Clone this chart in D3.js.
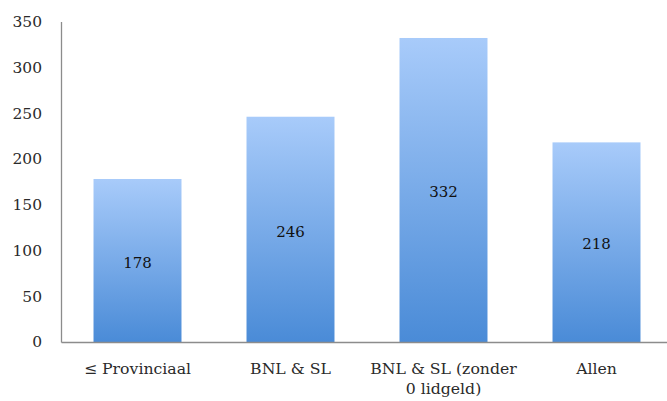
<!DOCTYPE html>
<html>
<head>
<meta charset="utf-8">
<script src="https://cdn.jsdelivr.net/npm/d3@7"></script>
<style>
body { margin: 0; background: #fff; }
text { font-family: "DejaVu Serif", "Liberation Serif", serif; }
</style>
</head>
<body>
<svg id="chart" width="667" height="401"></svg>
<script>
var categories = ["≤ Provinciaal", "BNL & SL", "BNL & SL (zonder|0 lidgeld)", "Allen"];
var values = [178, 246, 332, 218];
var yTicks = [0, 50, 100, 150, 200, 250, 300, 350];

var svg = d3.select("#chart");
var plotLeft = 61, plotRight = 673, plotTop = 21.5, plotBottom = 342;

var defs = svg.append("defs");
var grad = defs.append("linearGradient")
    .attr("id", "barGrad")
    .attr("x1", 0).attr("y1", 0).attr("x2", 0).attr("y2", 1);
grad.append("stop").attr("offset", "0%").attr("stop-color", "#a8cbfa");
grad.append("stop").attr("offset", "100%").attr("stop-color", "#4a8bd7");

var x = d3.scaleBand()
    .domain(categories)
    .range([plotLeft, plotRight])
    .paddingInner(0.425)
    .paddingOuter(0.2125);

var y = d3.scaleLinear()
    .domain([0, 350])
    .range([plotBottom, plotTop]);

// bars
svg.selectAll("rect.bar")
    .data(values)
    .enter()
    .append("rect")
    .attr("class", "bar")
    .attr("x", function(d, i) { return x(categories[i]); })
    .attr("y", function(d) { return y(d); })
    .attr("width", x.bandwidth())
    .attr("height", function(d) { return plotBottom - y(d); })
    .attr("fill", "url(#barGrad)");

// value labels
svg.selectAll("text.val")
    .data(values)
    .enter()
    .append("text")
    .attr("class", "val")
    .attr("x", function(d, i) { return x(categories[i]) + x.bandwidth() / 2; })
    .attr("y", function(d) { return (y(d) + plotBottom) / 2 + 2; })
    .attr("dy", "0.35em")
    .attr("text-anchor", "middle")
    .attr("font-size", 15)
    .attr("fill", "#111")
    .text(function(d) { return d; });

// y axis
var yAxis = svg.append("g")
    .attr("transform", "translate(" + plotLeft + ",0)")
    .call(d3.axisLeft(y).tickValues(yTicks).tickSize(0).tickPadding(19));
yAxis.select(".domain").attr("stroke", "#8c8c8c").attr("stroke-width", 1.3);
yAxis.selectAll("text")
    .attr("font-size", 15.5)
    .attr("fill", "#2a2a2a")
    .style("font-family", "'DejaVu Serif', 'Liberation Serif', serif");

// x axis
var xAxis = svg.append("g")
    .attr("transform", "translate(0," + plotBottom + ")")
    .call(d3.axisBottom(x).tickSize(0).tickFormat(""));
xAxis.select(".domain").attr("stroke", "#8c8c8c").attr("stroke-width", 1.3);

xAxis.selectAll(".tick").each(function(d) {
    var lines = d.split("|");
    var t = d3.select(this).append("text")
        .attr("text-anchor", "middle")
        .attr("font-size", 15.7)
        .attr("fill", "#2a2a2a")
        .style("font-family", "'DejaVu Serif', 'Liberation Serif', serif");
    lines.forEach(function(l, i) {
        t.append("tspan").attr("x", 0).attr("y", 32 + i * 20).text(l);
    });
});
</script>
</body>
</html>
